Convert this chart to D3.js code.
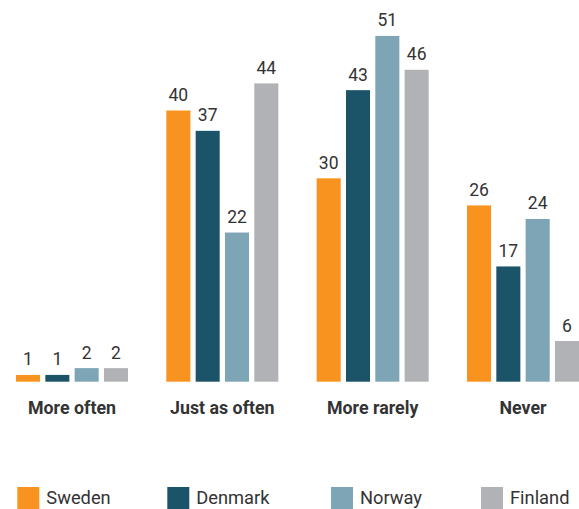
<!DOCTYPE html>
<html>
<head>
<meta charset="utf-8">
<script src="https://cdn.jsdelivr.net/npm/d3@7"></script>
<style>
  html, body { margin: 0; padding: 0; background: #fff; }
  svg { display: block; }
  text { font-family: Roboto, "Open Sans", sans-serif; fill: #333; }
</style>
</head>
<body>
<svg id="chart" width="579" height="509"></svg>
<script>
// Answer categories and the countries compared
const categories = ["More often", "Just as often", "More rarely", "Never"];
const countries = ["Sweden", "Denmark", "Norway", "Finland"];
const colors = ["#F7931E", "#1B5369", "#7DA5B5", "#B1B2B6"];

// Share of respondents (%) per category, one array per country
const sweden  = [1, 40, 30, 26];
const denmark = [1, 37, 43, 17];
const norway  = [2, 22, 51, 24];
const finland = [2, 44, 46, 6];
const seriesValues = [sweden, denmark, norway, finland];

const svg = d3.select("#chart");

const x0 = d3.scaleBand().domain(categories).range([16, 579]).paddingInner(0.255).paddingOuter(0);
const x1 = d3.scaleBand().domain(countries).range([0, x0.bandwidth()]).paddingInner(0.18).paddingOuter(0);
const y = d3.scaleLinear().domain([0, 51]).range([381.7, 381.7 - 51 * 6.78]);
const color = d3.scaleOrdinal().domain(countries).range(colors);

const rows = categories.map((c, i) => ({
  category: c,
  values: countries.map((k, j) => ({ country: k, value: seriesValues[j][i] }))
}));

const groups = svg.selectAll("g.group").data(rows).join("g")
  .attr("class", "group")
  .attr("transform", d => `translate(${x0(d.category)},0)`);

groups.selectAll("rect").data(d => d.values).join("rect")
  .attr("x", d => x1(d.country))
  .attr("y", d => y(d.value))
  .attr("width", x1.bandwidth())
  .attr("height", d => y(0) - y(d.value))
  .attr("fill", d => color(d.country));

groups.selectAll("text.value").data(d => d.values).join("text")
  .attr("class", "value")
  .attr("x", d => x1(d.country) + x1.bandwidth() / 2)
  .attr("y", d => y(d.value) - 9.5)
  .attr("text-anchor", "middle")
  .attr("font-size", 17.5)
  .text(d => d.value);

// Category axis (labels only, no line or ticks)
const xAxis = svg.append("g")
  .attr("transform", `translate(0,${y(0)})`)
  .call(d3.axisBottom(x0).tickSize(0).tickPadding(0));
xAxis.select(".domain").remove();
xAxis.selectAll("text")
  .attr("dy", null)
  .attr("y", 32.6)
  .attr("font-size", 17.8)
  .attr("font-weight", "bold")
  .style("font-family", "Roboto, 'Open Sans', sans-serif")
  .attr("fill", "#333");

// Legend
const legendX = [17.3, 167.3, 331, 481];
const legend = svg.selectAll("g.legend").data(countries).join("g")
  .attr("class", "legend")
  .attr("transform", (d, i) => `translate(${legendX[i]},487)`);
legend.append("rect")
  .attr("width", 22).attr("height", 22)
  .attr("fill", d => color(d));
legend.append("text")
  .attr("x", 29).attr("y", 17.3)
  .attr("font-size", 18.3)
  .text(d => d);
</script>
</body>
</html>
